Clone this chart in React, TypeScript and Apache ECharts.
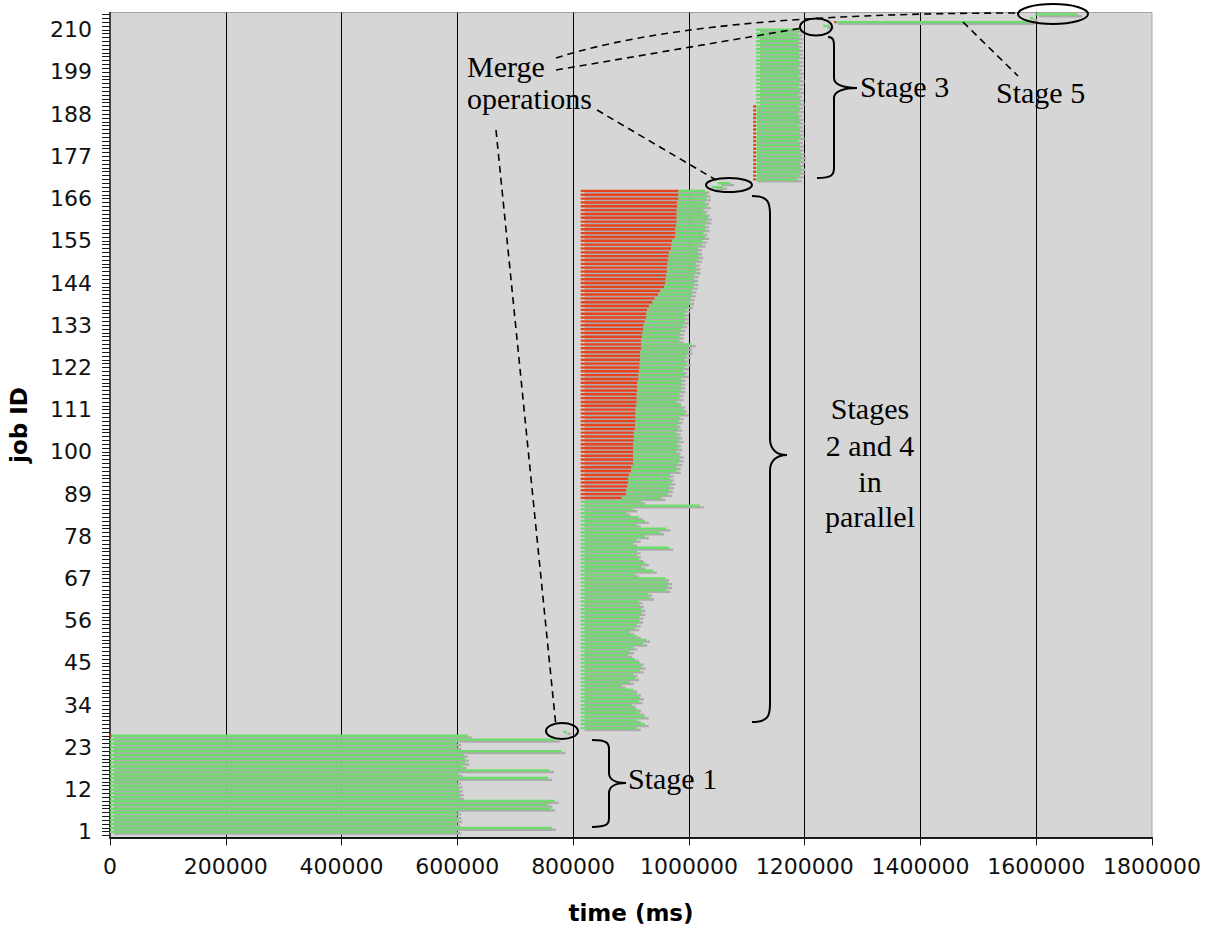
import React, { useEffect, useRef } from 'react';
import * as echarts from 'echarts';

// ---------- data ----------
const jobIds: string[] = Array.from({ length: 215 }, (_, i) => String(i));

// Stage 1: jobs 1..26, start at 0
const stage1FirstJob = 1;
const stage1RunEnd = [
  600000, 763000, 598000, 602000, 600000, 600000, 762000, 757000, 768000, 605000,
  604000, 603000, 602000, 600000, 757000, 602000, 760000, 609000, 614000, 613000,
  611000, 780000, 600000, 600000, 771000, 618000,
];
const stage1WaitJob = 26;
const stage1WaitEnd = 3000;

// Stage 2: jobs 28..87 (run only)
const stage2FirstJob = 28;
const stage2Start = 813000;
const stage2RunEnd = [
  910000, 924000, 910000, 924000, 915000, 910000, 901000, 913000, 915000, 910000,
  904000, 884000, 898000, 907000, 904000, 915000, 918000, 915000, 907000, 895000,
  898000, 904000, 921000, 926000, 910000, 898000, 907000, 910000, 914000, 915000,
  918000, 918000, 915000, 913000, 933000, 930000, 961000, 964000, 964000, 959000,
  907000, 938000, 918000, 924000, 914000, 910000, 910000, 966000, 904000, 910000,
  924000, 950000, 961000, 910000, 924000, 913000, 892000, 904000, 1019000, 918000,
];

// Stage 4: jobs 88..168 (wait, then run)
const stage4FirstJob = 88;
const stage4WaitStart = 813000;
const stage4WaitEnd = [
  884000, 892000, 892000, 894000, 895000, 895000, 897000, 900000, 901000, 904000,
  904000, 904000, 904000, 904000, 904000, 905000, 905000, 905000, 907000, 907000,
  908000, 908000, 908000, 908000, 909000, 910000, 910000, 910000, 911000, 911000,
  911000, 913000, 913000, 914000, 915000, 915000, 916000, 916000, 916000, 918000,
  918000, 918000, 919000, 920000, 921000, 922000, 924000, 926000, 927000, 928000,
  931000, 937000, 941000, 947000, 951000, 957000, 959000, 960000, 961000, 962000,
  962000, 963000, 964000, 965000, 966000, 969000, 970000, 971000, 976000, 977000,
  977000, 978000, 979000, 979000, 979000, 979000, 980000, 980000, 982000, 982000,
  982000,
];
const stage4RunEnd = [
  953000, 964000, 966000, 967000, 970000, 967000, 967000, 979000, 979000, 982000,
  984000, 984000, 979000, 982000, 980000, 984000, 982000, 979000, 982000, 979000,
  982000, 984000, 993000, 990000, 987000, 979000, 984000, 984000, 987000, 987000,
  987000, 987000, 993000, 990000, 993000, 996000, 993000, 996000, 999000, 999000,
  1005000, 984000, 984000, 985000, 987000, 990000, 993000, 993000, 993000, 996000,
  1000000, 1002000, 1003000, 1005000, 1006000, 1008000, 1010000, 1009000, 1010000, 1013000,
  1013000, 1012000, 1016000, 1018000, 1016000, 1016000, 1022000, 1024000, 1028000, 1025000,
  1029000, 1028000, 1032000, 1033000, 1029000, 1025000, 1031000, 1028000, 1031000, 1031000,
  1028000,
];

// Stage 3: jobs 171..210
const stage3FirstJob = 171;
const stage3WaitStart = 1111000;
const stage3RunStart = 1116000;
const stage3WaitCount = 20; // jobs 171..190 show a short wait
const stage3RunEnd = [
  1188000, 1191000, 1193000, 1194000, 1192000, 1194000, 1195000, 1193000, 1191000, 1192000,
  1190000, 1193000, 1191000, 1192000, 1190000, 1193000, 1191000, 1189000, 1192000, 1190000,
  1193000, 1191000, 1189000, 1192000, 1190000, 1191000, 1193000, 1190000, 1192000, 1189000,
  1191000, 1190000, 1192000, 1190000, 1191000, 1189000, 1190000, 1191000, 1189000, 1190000,
];

// Merge operations
const mergeJobs = [27, 169, 170, 211, 213];
const mergeStart = [783000, 1040000, 1050000, 1232000, 1589000];
const mergeEnd = [789000, 1059000, 1071000, 1243000, 1595000];

// Stage 5
const stage5Jobs = [212, 214];
const stage5WaitStart = [1251000, 1598000];
const stage5RunStart = [1255000, 1598000];
const stage5RunEnd = [1589000, 1672000];

// x axis
const timeMin = 0;
const timeMax = 1800000;
const timeStep = 200000;

// ---------- build rows: [job, waitStart, runStart, runEnd] ----------
type Row = [number, number, number, number];
function buildRows(): Row[] {
  const rows: Row[] = [];
  stage1RunEnd.forEach((end, i) => {
    const job = stage1FirstJob + i;
    rows.push([job, 0, job === stage1WaitJob ? stage1WaitEnd : 0, end]);
  });
  stage2RunEnd.forEach((end, i) => rows.push([stage2FirstJob + i, stage2Start, stage2Start, end]));
  stage4RunEnd.forEach((end, i) =>
    rows.push([stage4FirstJob + i, stage4WaitStart, stage4WaitEnd[i], end])
  );
  stage3RunEnd.forEach((end, i) =>
    rows.push([
      stage3FirstJob + i,
      i < stage3WaitCount ? stage3WaitStart : stage3RunStart,
      stage3RunStart,
      end,
    ])
  );
  mergeJobs.forEach((job, i) => rows.push([job, mergeStart[i], mergeStart[i], mergeEnd[i]]));
  stage5Jobs.forEach((job, i) =>
    rows.push([job, stage5WaitStart[i], stage5RunStart[i], stage5RunEnd[i]])
  );
  return rows;
}

const GREEN = '#6cdc6c';
const RED = '#e8431f';
const SHADOW = '#acacac';
const BAR_RATIO = 0.62;

const renderShadow = (_params: any, api: any) => {
  const job = api.value(0);
  const a = api.coord([api.value(1), job]);
  const c = api.coord([api.value(3), job]);
  const band = api.size([0, 1])[1];
  const h = band * BAR_RATIO;
  return {
    type: 'rect',
    shape: { x: a[0] + 4, y: a[1] - h / 2 + 1.8, width: Math.max(c[0] - a[0], 1.5), height: h },
    style: { fill: SHADOW },
  };
};

const renderBar = (_params: any, api: any) => {
  const job = api.value(0);
  const a = api.coord([api.value(1), job]);
  const b = api.coord([api.value(2), job]);
  const c = api.coord([api.value(3), job]);
  const band = api.size([0, 1])[1];
  const h = band * BAR_RATIO;
  const y = a[1] - h / 2;
  const children: any[] = [];
  if (b[0] - a[0] > 0.1) {
    children.push({ type: 'rect', shape: { x: a[0], y, width: b[0] - a[0], height: h }, style: { fill: RED } });
  }
  children.push({
    type: 'rect',
    shape: { x: b[0], y, width: Math.max(c[0] - b[0], 1.5), height: h },
    style: { fill: GREEN },
  });
  return { type: 'group', children };
};

// ---------- annotations ----------
const SERIF = '30px "Liberation Serif", "Times New Roman", serif';
const txt = (text: string, x: number, y: number, align: string = 'left') => ({
  type: 'text',
  x,
  y,
  z: 100,
  style: { text, font: SERIF, fill: '#000', textAlign: align, textVerticalAlign: 'middle' },
});
const dash = (x1: number, y1: number, x2: number, y2: number) => ({
  type: 'line',
  z: 100,
  shape: { x1, y1, x2, y2 },
  style: { stroke: '#000', lineWidth: 1.6, lineDash: [7, 5] },
});
const dashCurve = (x1: number, y1: number, cpx1: number, cpy1: number, cpx2: number, cpy2: number, x2: number, y2: number) => ({
  type: 'bezierCurve',
  z: 100,
  shape: { x1, y1, cpx1, cpy1, cpx2, cpy2, x2, y2 },
  style: { fill: 'none', stroke: '#000', lineWidth: 1.6, lineDash: [7, 5] },
});
const ell = (cx: number, cy: number, rx: number, ry: number) => ({
  type: 'ellipse',
  z: 100,
  shape: { cx, cy, rx, ry },
  style: { fill: 'none', stroke: '#000', lineWidth: 2 },
});
const bz = (x1: number, y1: number, cpx1: number, cpy1: number, cpx2: number, cpy2: number, x2: number, y2: number) => ({
  type: 'bezierCurve',
  z: 100,
  shape: { x1, y1, cpx1, cpy1, cpx2, cpy2, x2, y2 },
  style: { fill: 'none', stroke: '#000', lineWidth: 2 },
});
const ln = (x1: number, y1: number, x2: number, y2: number) => ({
  type: 'line',
  z: 100,
  shape: { x1, y1, x2, y2 },
  style: { stroke: '#000', lineWidth: 2 },
});
function brace(x0Top: number, yTop: number, x0Bot: number, yBot: number, xb: number, xTip: number, yMid: number, rh: number, rm: number) {
  return [
    bz(x0Top, yTop, x0Top + (xb - x0Top) * 0.9, yTop, xb, yTop + rh * 0.35, xb, yTop + rh),
    ln(xb, yTop + rh, xb, yMid - rm),
    bz(xb, yMid - rm, xb, yMid - rm * 0.35, xb + (xTip - xb) * 0.4, yMid, xTip, yMid),
    bz(xTip, yMid, xb + (xTip - xb) * 0.4, yMid, xb, yMid + rm * 0.35, xb, yMid + rm),
    ln(xb, yMid + rm, xb, yBot - rh),
    bz(xb, yBot - rh, xb, yBot - rh * 0.35, x0Bot + (xb - x0Bot) * 0.9, yBot, x0Bot, yBot),
  ];
}

const graphicElements: any[] = [
  txt('Merge', 467, 66),
  txt('operations', 467, 98),
  txt('Stage 3', 860, 86),
  txt('Stage 5', 996, 92),
  txt('Stage 1', 628, 778),
  txt('Stages', 870, 408, 'center'),
  txt('2 and 4', 870, 445, 'center'),
  txt('in', 870, 481, 'center'),
  txt('parallel', 870, 516, 'center'),
  dashCurve(556, 58, 650, 28, 800, 13, 1020, 13),
  dash(556, 70, 802, 28),
  dash(597, 110, 716, 180),
  dash(496, 130, 556, 727),
  dash(963, 22, 1018, 76),
  ell(562, 731, 16, 8),
  ell(729, 185, 23, 7),
  ell(816, 27, 16, 8.5),
  ell(1053, 14, 35, 10),
  ...brace(592, 740, 592, 827, 609, 626, 783, 9, 10),
  ...brace(752, 196, 752, 722, 770, 787, 455, 18, 16),
  ...brace(828, 37, 817, 178, 834, 857, 88, 10, 10),
];

export default function App() {
  const ref = useRef<HTMLDivElement>(null);
  useEffect(() => {
    if (!ref.current) return;
    const chart = echarts.init(ref.current, null, { renderer: 'svg' });
    const rows = buildRows();
    const labelFont = { fontFamily: 'DejaVu Sans', fontSize: 22, color: '#111' };
    chart.setOption({
      animation: false,
      backgroundColor: '#ffffff',
      grid: {
        left: 110,
        right: 60,
        top: 12.5,
        bottom: 88.5,
        show: true,
        backgroundColor: '#d6d6d6',
        borderColor: '#a3a3a3',
        borderWidth: 1,
        outerBoundsMode: 'none',
      },
      xAxis: {
        type: 'value',
        min: timeMin,
        max: timeMax,
        interval: timeStep,
        name: 'time (ms)',
        nameLocation: 'middle',
        nameGap: 64,
        nameTextStyle: { fontFamily: 'DejaVu Sans', fontWeight: 'bold', fontSize: 23, color: '#000' },
        axisLine: { show: true, onZero: false, lineStyle: { color: '#1a1a1a', width: 2 } },
        axisTick: { show: true, length: 8, lineStyle: { color: '#1a1a1a', width: 1 } },
        axisLabel: { ...labelFont, margin: 18, formatter: (v: number) => String(v) },
        splitLine: { show: true, showMinLine: false, showMaxLine: false, lineStyle: { color: '#000', width: 1 } },
      },
      yAxis: {
        type: 'category',
        data: jobIds,
        name: 'job ID',
        nameLocation: 'middle',
        nameGap: 80,
        nameTextStyle: { fontFamily: 'DejaVu Sans', fontWeight: 'bold', fontSize: 23, color: '#000' },
        axisLine: { show: true, lineStyle: { color: '#1a1a1a', width: 1.5 } },
        axisTick: { show: true, interval: 0, length: 8, alignWithLabel: true, lineStyle: { color: '#1a1a1a', width: 1 } },
        axisLabel: {
          ...labelFont,
          margin: 18,
          interval: (index: number) => index >= 1 && (index - 1) % 11 === 0,
        },
        splitLine: { show: false },
      },
      series: [
        {
          type: 'custom',
          name: 'shadow',
          renderItem: renderShadow,
          encode: { x: [1, 2, 3], y: 0 },
          data: rows,
          clip: true,
          silent: true,
        },
        {
          type: 'custom',
          name: 'jobs',
          renderItem: renderBar,
          encode: { x: [1, 2, 3], y: 0 },
          data: rows,
          clip: true,
          silent: true,
        },
      ],
      graphic: { elements: graphicElements },
    });
    return () => chart.dispose();
  }, []);
  return (
    <div
      ref={ref}
      style={{ position: 'fixed', left: 0, top: 0, width: 1212, height: 926, background: '#fff' }}
    />
  );
}
